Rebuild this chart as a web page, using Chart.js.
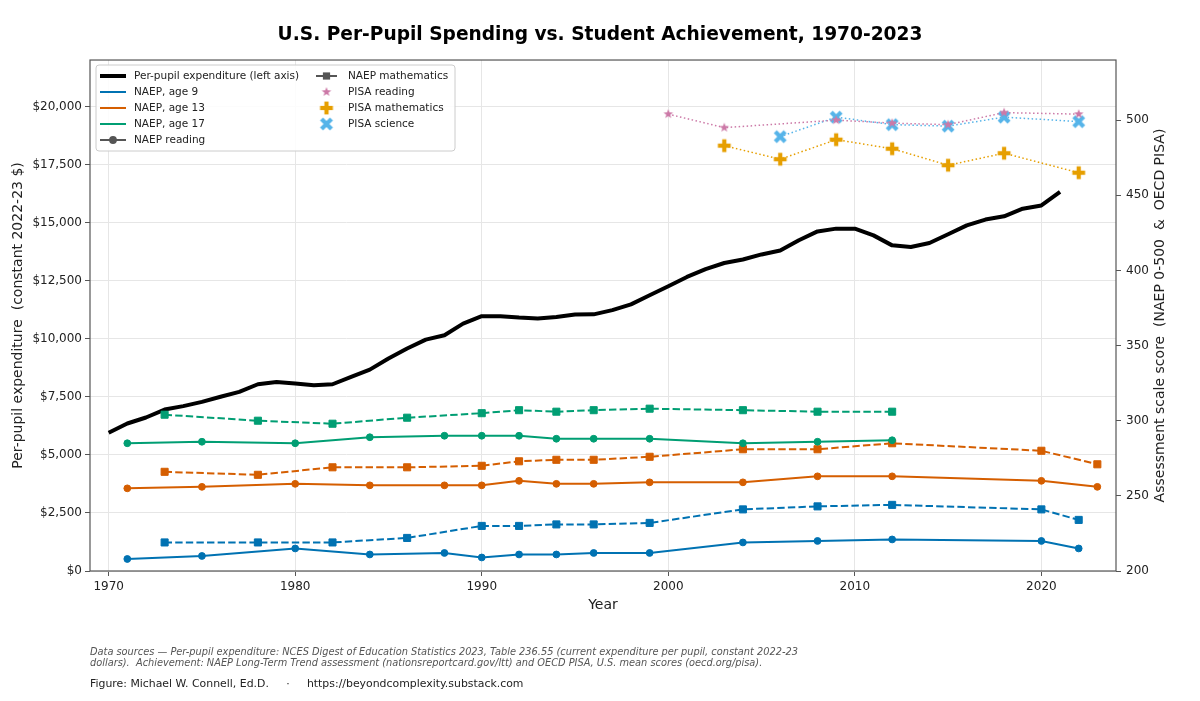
<!DOCTYPE html>
<html><head><meta charset="utf-8">
<script src="https://cdn.jsdelivr.net/npm/chart.js@4.4.1/dist/chart.umd.min.js"></script>
<style>
html,body{margin:0;padding:0;background:#fff;}
#wrap{position:relative;width:1200px;height:701px;overflow:hidden;font-family:"DejaVu Sans",sans-serif;}
#c{position:absolute;left:0;top:0;}
.note{position:absolute;left:90px;white-space:pre;color:#555;font-style:italic;font-size:9.8px;line-height:10.8px;}
.credit{position:absolute;left:90px;white-space:pre;color:#222;font-size:10.9px;line-height:12px;}
</style></head><body>
<div id="wrap">
<canvas id="c" width="1200" height="701"></canvas>
<div class="note" style="top:647px">Data sources — Per-pupil expenditure: NCES Digest of Education Statistics 2023, Table 236.55 (current expenditure per pupil, constant 2022-23
dollars).  Achievement: NAEP Long-Term Trend assessment (nationsreportcard.gov/ltt) and OECD PISA, U.S. mean scores (oecd.org/pisa).</div>
<div class="credit" style="top:678px">Figure: Michael W. Connell, Ed.D.     ·     https://beyondcomplexity.substack.com</div>
</div>
<script>
// ---------- data ----------
const spendYears = [1970,1971,1972,1973,1974,1975,1976,1977,1978,1979,1980,1981,1982,1983,1984,1985,1986,1987,1988,1989,1990,1991,1992,1993,1994,1995,1996,1997,1998,1999,2000,2001,2002,2003,2004,2005,2006,2007,2008,2009,2010,2011,2012,2013,2014,2015,2016,2017,2018,2019,2020,2021];
const spendValues = [5950,6350,6610,6950,7100,7280,7500,7710,8040,8140,8070,8000,8040,8360,8670,9150,9580,9960,10150,10650,10970,10970,10910,10870,10940,11040,11050,11230,11480,11870,12260,12660,13000,13260,13410,13630,13800,14240,14620,14740,14740,14450,14020,13950,14120,14500,14880,15130,15270,15600,15740,16320];

const read9Years  = [1971,1975,1980,1984,1988,1990,1992,1994,1996,1999,2004,2008,2012,2020,2022];
const read9       = [208,210,215,211,212,209,211,211,212,212,219,220,221,220,215];
const read13Years = [1971,1975,1980,1984,1988,1990,1992,1994,1996,1999,2004,2008,2012,2020,2023];
const read13      = [255,256,258,257,257,257,260,258,258,259,259,263,263,260,256];
const read17Years = [1971,1975,1980,1984,1988,1990,1992,1994,1996,1999,2004,2008,2012];
const read17      = [285,286,285,289,290,290,290,288,288,288,285,286,287];

const math9Years  = [1973,1978,1982,1986,1990,1992,1994,1996,1999,2004,2008,2012,2020,2022];
const math9       = [219,219,219,222,230,230,231,231,232,241,243,244,241,234];
const math13Years = [1973,1978,1982,1986,1990,1992,1994,1996,1999,2004,2008,2012,2020,2023];
const math13      = [266,264,269,269,270,273,274,274,276,281,281,285,280,271];
const math17Years = [1973,1978,1982,1986,1990,1992,1994,1996,1999,2004,2008,2012];
const math17      = [304,300,298,302,305,307,306,307,308,307,306,306];

const pisaReadYears = [2000,2003,2009,2012,2015,2018,2022];
const pisaRead      = [504,495,500,498,497,505,504];
const pisaMathYears = [2003,2006,2009,2012,2015,2018,2022];
const pisaMath      = [483,474,487,481,470,478,465];
const pisaSciYears  = [2006,2009,2012,2015,2018,2022];
const pisaSci       = [489,502,497,496,502,499];

const xTickValues     = [1970,1980,1990,2000,2010,2020];
const leftTickValues  = [0,2500,5000,7500,10000,12500,15000,17500,20000];
const rightTickValues = [200,250,300,350,400,450,500];

// ---------- styling ----------
const C9 = '#0072B2', C13 = '#D55E00', C17 = '#009E73';
const CPR = '#CC79A7', CPM = '#E69F00', CPS = '#56B4E9';
const FONT = '"DejaVu Sans", sans-serif';

function pts(xs, ys){ return xs.map((x,i)=>({x:x, y:ys[i]})); }
const asTicks = vals => vals.map(v => ({value: v}));

function makeMarker(kind, color){
  const s = 18, c = document.createElement('canvas');
  c.width = s; c.height = s;
  const g = c.getContext('2d');
  g.fillStyle = color;
  g.translate(s/2, s/2);
  if (kind === 'star'){
    const ro = 5.0, ri = 2.1;
    g.beginPath();
    for (let i=0;i<10;i++){
      const r = i%2===0 ? ro : ri;
      const a = -Math.PI/2 + i*Math.PI/5;
      const px = r*Math.cos(a), py = r*Math.sin(a);
      if (i===0) g.moveTo(px,py); else g.lineTo(px,py);
    }
    g.closePath(); g.fill();
  } else {
    if (kind === 'x') g.rotate(Math.PI/4);
    const a = kind === 'x' ? 7.0 : 6.4, w = 2.1;
    g.fillRect(-a,-w,2*a,2*w);
    g.fillRect(-w,-a,2*w,2*a);
  }
  return c;
}
const mStar = makeMarker('star', CPR);
const mPlus = makeMarker('plus', CPM);
const mX    = makeMarker('x', CPS);

const DASH = [7.4, 3.2];
const DOT = [1.5, 2.5];

function naep(label, xs, ys, color, math){
  return {
    label, data: pts(xs, ys), yAxisID: 'y2',
    borderColor: color, backgroundColor: color, borderWidth: 2,
    borderDash: math ? DASH : [],
    pointStyle: math ? 'rect' : 'circle',
    pointRadius: math ? 5.0 : 3.4, pointBorderWidth: 1,
    pointBorderColor: color, pointBackgroundColor: color,
    order: 1, tension: 0
  };
}
function pisa(label, xs, ys, color, img){
  return {
    label, data: pts(xs, ys), yAxisID: 'y2',
    borderColor: color, backgroundColor: color, borderWidth: 1.5,
    borderDash: DOT, pointStyle: img, pointRadius: 6,
    order: 0, tension: 0
  };
}

const datasets = [
  { label: 'Per-pupil expenditure (left axis)', data: pts(spendYears, spendValues), yAxisID: 'y',
    borderColor: '#000', backgroundColor: '#000', borderWidth: 4, pointRadius: 0,
    borderJoinStyle: 'round', borderCapStyle: 'butt', order: 5, tension: 0 },
  naep('NAEP reading, age 9', read9Years, read9, C9, false),
  naep('NAEP reading, age 13', read13Years, read13, C13, false),
  naep('NAEP reading, age 17', read17Years, read17, C17, false),
  naep('NAEP mathematics, age 9', math9Years, math9, C9, true),
  naep('NAEP mathematics, age 13', math13Years, math13, C13, true),
  naep('NAEP mathematics, age 17', math17Years, math17, C17, true),
  pisa('PISA reading', pisaReadYears, pisaRead, CPR, mStar),
  pisa('PISA mathematics', pisaMathYears, pisaMath, CPM, mPlus),
  pisa('PISA science', pisaSciYears, pisaSci, CPS, mX)
];

const legendCol1 = [
  {text:'Per-pupil expenditure (left axis)', type:'line', color:'#000', lw:4},
  {text:'NAEP, age 9', type:'line', color:C9, lw:2},
  {text:'NAEP, age 13', type:'line', color:C13, lw:2},
  {text:'NAEP, age 17', type:'line', color:C17, lw:2},
  {text:'NAEP reading', type:'lineCircle', color:'#555', lw:2}
];
const legendCol2 = [
  {text:'NAEP mathematics', type:'lineSquare', color:'#555', lw:2},
  {text:'PISA reading', type:'img', img:mStar},
  {text:'PISA mathematics', type:'img', img:mPlus},
  {text:'PISA science', type:'img', img:mX}
];

const decor = {
  id: 'decor',
  afterDraw(chart){
    const ctx = chart.ctx, a = chart.chartArea;
    ctx.save();
    // frame (spines)
    ctx.strokeStyle = '#555'; ctx.lineWidth = 1.2;
    ctx.strokeRect(a.left, a.top, a.right - a.left, a.bottom - a.top);
    // right axis title (reads bottom to top)
    ctx.save();
    ctx.translate(1160, (a.top + a.bottom)/2);
    ctx.rotate(-Math.PI/2);
    ctx.fillStyle = '#222'; ctx.font = '14px ' + FONT;
    ctx.textAlign = 'center'; ctx.textBaseline = 'middle';
    ctx.fillText('Assessment scale score  (NAEP 0-500  &  OECD PISA)', 0, 0);
    ctx.restore();
    // legend
    const bx = 96, by = 65, bw = 359, bh = 86, r = 3;
    ctx.beginPath();
    ctx.moveTo(bx+r, by); ctx.lineTo(bx+bw-r, by); ctx.quadraticCurveTo(bx+bw, by, bx+bw, by+r);
    ctx.lineTo(bx+bw, by+bh-r); ctx.quadraticCurveTo(bx+bw, by+bh, bx+bw-r, by+bh);
    ctx.lineTo(bx+r, by+bh); ctx.quadraticCurveTo(bx, by+bh, bx, by+bh-r);
    ctx.lineTo(bx, by+r); ctx.quadraticCurveTo(bx, by, bx+r, by);
    ctx.closePath();
    ctx.fillStyle = 'rgba(255,255,255,0.85)'; ctx.fill();
    ctx.strokeStyle = '#cccccc'; ctx.lineWidth = 1; ctx.stroke();
    ctx.font = '10.5px ' + FONT; ctx.textBaseline = 'middle'; ctx.textAlign = 'left';
    const rowY = i => 76 + i*16;
    function handle(e, x0, x1, y){
      const xm = (x0 + x1)/2;
      if (e.type === 'img'){ ctx.drawImage(e.img, xm - e.img.width/2, y - e.img.height/2); return; }
      ctx.strokeStyle = e.color; ctx.lineWidth = e.lw; ctx.setLineDash([]);
      ctx.beginPath(); ctx.moveTo(x0, y); ctx.lineTo(x1, y); ctx.stroke();
      ctx.fillStyle = e.color;
      if (e.type === 'lineCircle'){ ctx.beginPath(); ctx.arc(xm, y, 3.9, 0, Math.PI*2); ctx.fill(); }
      if (e.type === 'lineSquare'){ ctx.fillRect(xm-3.6, y-3.6, 7.2, 7.2); }
    }
    legendCol1.forEach((e,i)=>{ handle(e, 100, 126, rowY(i)); ctx.fillStyle='#222'; ctx.fillText(e.text, 134, rowY(i)); });
    legendCol2.forEach((e,i)=>{ handle(e, 316, 337, rowY(i)); ctx.fillStyle='#222'; ctx.fillText(e.text, 348, rowY(i)); });
    ctx.restore();
  }
};

const tickFont = {family: FONT, size: 12};
new Chart(document.getElementById('c'), {
  type: 'line',
  data: { datasets },
  plugins: [decor],
  options: {
    responsive: false, animation: false,
    layout: { padding: { top: 0, left: 0, right: 0, bottom: 85 } },
    plugins: {
      legend: { display: false }, tooltip: { enabled: false },
      title: { display: true, text: 'U.S. Per-Pupil Spending vs. Student Achievement, 1970-2023',
               font: {family: FONT, size: 18.6, weight: 'bold'}, color: '#000',
               padding: {top: 24, bottom: 13.7} }
    },
    scales: {
      x: {
        type: 'linear', min: 1969, max: 2024,
        afterBuildTicks: s => { s.ticks = asTicks(xTickValues); },
        ticks: { font: tickFont, color: '#222', padding: 4, maxRotation: 0, autoSkip: false,
                 callback: v => String(v) },
        grid: { color: '#e6e6e6', lineWidth: 1, tickColor: '#555', tickLength: 5 },
        border: { display: false },
        title: { display: true, text: 'Year', font: {family: FONT, size: 14}, color: '#222', padding: {top: 0, bottom: 2} },
        afterFit: s => { s.height = 45; }
      },
      y: {
        position: 'left', min: 0, max: 22000,
        afterBuildTicks: s => { s.ticks = asTicks(leftTickValues); },
        ticks: { font: tickFont, color: '#222', padding: 3, autoSkip: false,
                 callback: v => '$' + Number(v).toLocaleString('en-US') },
        grid: { color: '#e6e6e6', lineWidth: 1, tickColor: '#555', tickLength: 5 },
        border: { display: false },
        title: { display: true, text: 'Per-pupil expenditure  (constant 2022-23 $)', font: {family: FONT, size: 14},
                 color: '#222', padding: {top: 9.6, bottom: 0} },
        afterFit: s => { s.width = 90; }
      },
      y2: {
        position: 'right', min: 200, max: 540,
        afterBuildTicks: s => { s.ticks = asTicks(rightTickValues); },
        ticks: { font: tickFont, color: '#222', padding: 5, autoSkip: false },
        grid: { drawOnChartArea: false, tickColor: '#555', tickLength: 5 },
        border: { display: false },
        afterFit: s => { s.width = 84; }
      }
    }
  }
});
</script>
</body></html>
